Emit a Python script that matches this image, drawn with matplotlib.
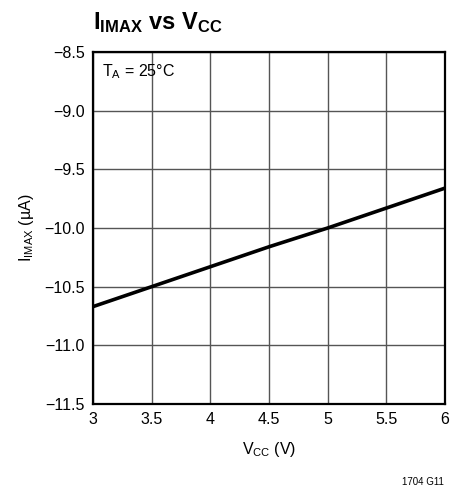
import matplotlib
matplotlib.use('Agg')
import matplotlib.pyplot as plt

plt.rcParams['font.family'] = ['Liberation Sans Narrow', 'Liberation Sans', 'DejaVu Sans']
plt.rcParams['mathtext.default'] = 'regular'

# data
vcc = [3.0, 3.5, 4.0, 4.5, 5.0, 5.5, 6.0]
imax = [-10.67, -10.50, -10.33, -10.16, -10.00, -9.83, -9.66]

x_ticks = [3, 3.5, 4, 4.5, 5, 5.5, 6]
x_labels = ['3', '3.5', '4', '4.5', '5', '5.5', '6']
y_ticks = [-11.5, -11.0, -10.5, -10.0, -9.5, -9.0, -8.5]
y_labels = ['\u221211.5', '\u221211.0', '\u221210.5', '\u221210.0', '\u22129.5', '\u22129.0', '\u22128.5']

fig = plt.figure(figsize=(4.61, 4.93), dpi=100)
ax = fig.add_axes([0.2017, 0.1805, 0.7636, 0.714])

ax.plot(vcc, imax, color='black', linewidth=2.6, solid_capstyle='butt')

ax.set_xlim(3, 6)
ax.set_ylim(-11.5, -8.5)
ax.set_xticks(x_ticks)
ax.set_xticklabels(x_labels)
ax.set_yticks(y_ticks)
ax.set_yticklabels(y_labels)
ax.tick_params(length=0, labelsize=11.5, pad=6)
ax.grid(True, color='#555555', linewidth=1.0)
for s in ax.spines.values():
    s.set_linewidth(1.6)
    s.set_color('black')

ax.set_xlabel('$V_{CC}$ (V)', fontsize=11.5, labelpad=9)
ax.set_ylabel('$I_{IMAX}$ (\u00b5A)', fontsize=11.5, labelpad=6)

ax.text(0.025, 0.97, '$T_A$ = 25\u00b0C', transform=ax.transAxes,
        fontsize=11.5, va='top', ha='left')

fig.text(0.2017, 0.955, '$I_{IMAX}$ vs $V_{CC}$', fontsize=17, fontweight='bold',
         va='center', ha='left')
fig.text(0.962, 0.023, '1704 G11', fontsize=7, ha='right', va='center')

fig.savefig('out.png', dpi=100)
